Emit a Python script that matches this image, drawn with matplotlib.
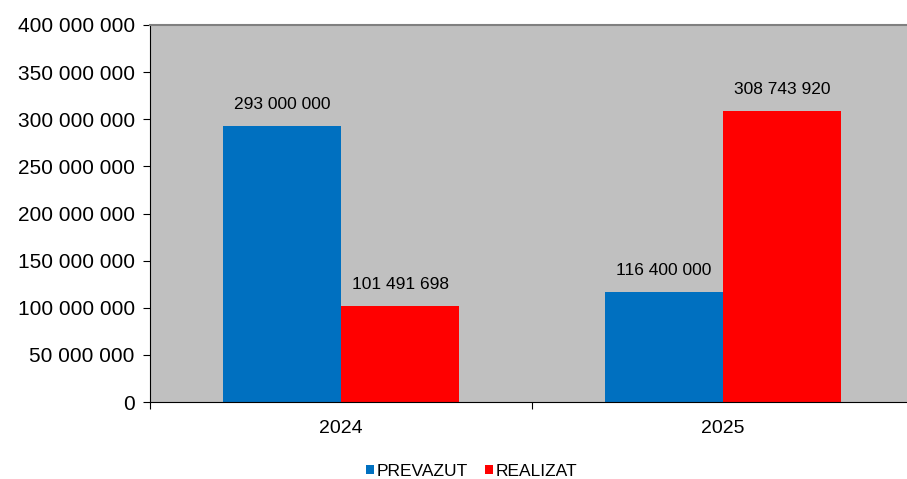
import matplotlib.pyplot as plt
import numpy as np

plt.rcParams['font.family'] = ['Liberation Sans', 'DejaVu Sans']

years = ['2024', '2025']
prevazut = [293000000, 116400000]
realizat = [101491698, 308743920]
series_names = ['PREVAZUT', 'REALIZAT']
colors = ['#0070C0', '#FF0000']


def fmt(v):
    return '{:,}'.format(int(v)).replace(',', ' ')


fig = plt.figure(figsize=(9.07, 4.79), dpi=100)
ax = fig.add_axes([150/907, 1-402/479, 764/907, 377/479])
ax.set_facecolor('#C0C0C0')

x = np.arange(len(years))
w = 0.31
b1 = ax.bar(x - w/2, prevazut, w, color=colors[0], label=series_names[0])
b2 = ax.bar(x + w/2, realizat, w, color=colors[1], label=series_names[1])

for bars, vals in ((b1, prevazut), (b2, realizat)):
    for r, v in zip(bars, vals):
        ax.annotate(fmt(v), (r.get_x() + r.get_width()/2, v), xytext=(0, 10),
                    textcoords='offset points', ha='center', va='bottom', fontsize=12.5)

ax.set_xlim(-0.5, 1.5)
ax.set_ylim(0, 400000000)
ax.set_yticks(np.arange(0, 400000001, 50000000))
ax.set_yticklabels([fmt(t) for t in ax.get_yticks()], fontsize=15)
ax.set_xticks([-0.5, 0.5, 1.5])
ax.set_xticklabels([])
ax.set_xticks(x, minor=True)
ax.set_xticklabels(years, minor=True, fontsize=14)
ax.tick_params(axis='x', which='minor', length=0, pad=13)
ax.tick_params(axis='x', which='major', length=5, direction='out')
ax.tick_params(axis='y', length=5, direction='out', pad=6)

ax.spines['top'].set_color('#808080')
ax.spines['top'].set_linewidth(1.5)
ax.spines['right'].set_visible(False)
ax.spines['left'].set_color('black')
ax.spines['bottom'].set_color('black')

fig.legend(loc='center', bbox_to_anchor=(472/907, 1-471/479), ncol=2, frameon=False,
           fontsize=12.5, handlelength=0.45, handleheight=0.45, handletextpad=0.15,
           columnspacing=1.0)

fig.savefig('out.png', dpi=100)
